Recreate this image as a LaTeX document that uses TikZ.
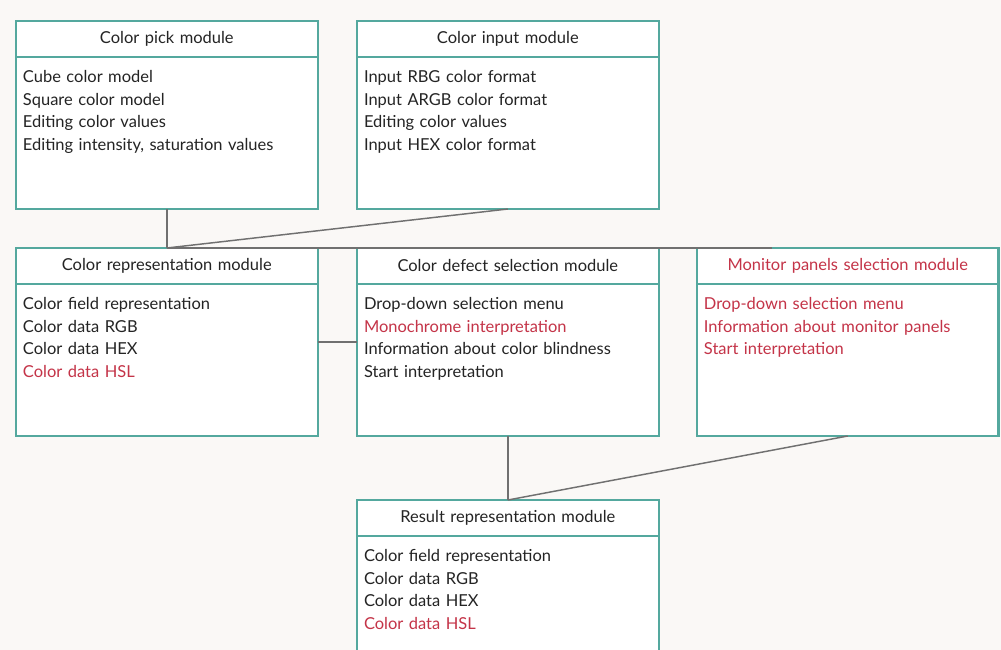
\documentclass[tikz,border=0pt]{standalone}
\usepackage{fontspec}
\setmainfont{Lato}
\usetikzlibrary{positioning,calc}
\definecolor{frame}{RGB}{84,168,158}
\definecolor{wire}{RGB}{112,112,112}
\definecolor{mark}{RGB}{196,52,72}
\definecolor{ink}{RGB}{36,36,36}
\definecolor{paper}{RGB}{250,248,246}

\begin{document}
\begin{tikzpicture}[font=\fontsize{12.4}{17}\selectfont, text=ink,
   hd/.style={draw=frame, line width=1.6pt, fill=white, outer sep=0pt, inner xsep=0.185cm, inner ysep=0pt,
     text width=7.61cm, align=center, minimum height=0.95cm, anchor=north west},
   bd/.style={draw=frame, line width=1.6pt, fill=white, outer sep=0pt, inner xsep=0.185cm, inner ysep=4pt,
     text width=7.61cm, align=left, text height=15.5pt, text depth=91pt, below=0pt of #1},
   link/.style={draw=wire, line width=1.1pt}]
  \clip (0,0) rectangle (26.485,-17.198);
  \fill[paper] (0,0) rectangle (26.485,-17.198);
  % top row
  \node[hd] (pickh) at (0.423,-0.556) {Color pick module};
  \node[bd=pickh] (pick) {Cube color model\\ Square color model\\ Editing color values\\ Editing intensity, saturation values};
  \node[hd] (inputh) at (9.446,-0.556) {Color input module};
  \node[bd=inputh] (input) {Input RBG color format\\ Input ARGB color format\\ Editing color values\\ Input HEX color format};
  % middle row
  \node[hd] (reph) at (0.423,-6.562) {Color representation module};
  \node[bd=reph] (rep) {Color field representation\\ Color data RGB\\ Color data HEX\\ \textcolor{mark}{Color data HSL}};
  \node[hd] (defh) at (9.446,-6.562) {Color defect selection module};
  \node[bd=defh] (def) {Drop-down selection menu\\ \textcolor{mark}{Monochrome interpretation}\\ Information about color blindness\\ Start interpretation};
  \node[hd, text=mark] (monh) at (18.44,-6.562) {Monitor panels selection module};
  \node[bd=monh, text=mark] (mon) {Drop-down selection menu\\ Information about monitor panels\\ Start interpretation};
  % bottom
  \node[hd] (resh) at (9.446,-13.23) {Result representation module};
  \node[bd=resh] (res) {Color field representation\\ Color data RGB\\ Color data HEX\\ \textcolor{mark}{Color data HSL}};
  % links
  \coordinate (linkend) at ($(monh.north west)!0.25!(monh.north east)$);
  \coordinate (repmid) at ($(reph.north)!0.5!(rep.south)$);
  \draw[link] (pick.south) -- (reph.north);
  \draw[link] (input.south) -- (reph.north);
  \draw[link] (reph.north) -- (linkend);
  \draw[link] (rep.east |- repmid) -- (def.west |- repmid);
  \draw[link] (def.south) -- (resh.north);
  \draw[link] (mon.south) -- (resh.north);
\end{tikzpicture}
\end{document}
